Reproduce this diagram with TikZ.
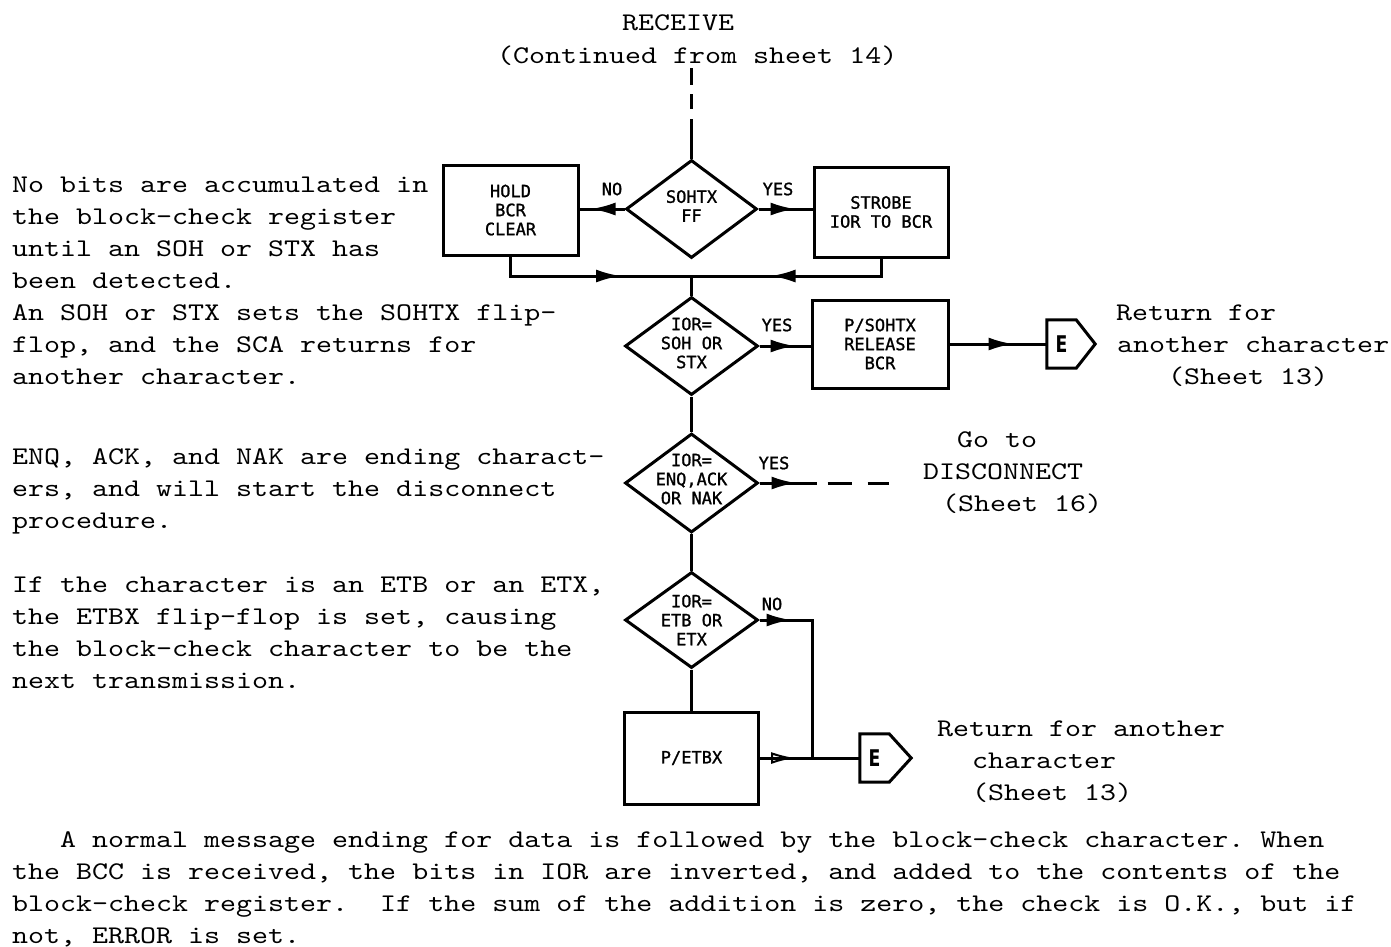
\documentclass[tikz,border=0pt]{standalone}
\usepackage{fontspec}
\usetikzlibrary{shapes.geometric,arrows.meta,decorations.markings}
\newfontfamily\twfam[FakeStretch=1.2]{lmmono10-regular.otf}
\newfontfamily\lblfam[FakeBold=1.2]{DejaVu Sans Mono}
\newfontfamily\econnfam[FakeStretch=0.75]{DejaVu Sans Bold}
\newcommand\txtfont{\twfam\fontsize{25.4}{32}\selectfont\frenchspacing}
\newcommand\lblfont{\lblfam\fontsize{17}{19}\selectfont}
\newcommand\efontsel{\econnfam\fontsize{23}{23}\selectfont}
\tikzset{
  ln/.style={line width=3pt},
  box/.style={draw, ln, rectangle, inner sep=0pt, align=center, font=\lblfont},
  dia/.style={draw, ln, diamond, inner sep=0pt},
  lab/.style={inner sep=0pt, font=\lblfont, align=center},
  tx/.style={anchor=base west, inner sep=0pt, font=\txtfont},
  econn/.style={inner sep=0pt, minimum width=29pt, minimum height=48pt, font=\efontsel},
  midarr/.style={postaction={decorate}, decoration={markings,
      mark=at position #1 with {\arrow{Latex[length=25pt,width=13pt]}}}},
  openarr/.style={postaction={decorate}, decoration={markings,
      mark=at position #1 with {\arrow{Latex[open,length=24pt,width=12pt,line width=2pt]}}}},
}
\begin{document}
\begin{tikzpicture}[x=1pt,y=-1pt]
\fill[white] (0,0) rectangle (1391,946);
\useasboundingbox (0,0) rectangle (1391,946);

% ---- title
\node[tx] (t1) at (622,30) {RECEIVE};
\node[tx] (t2) at (497,63) {(Continued from sheet 14)};

% ---- flow nodes
\node[box, minimum width=135pt, minimum height=90pt] (hold) at (510.5,210) {HOLD\\BCR\\CLEAR};
\node[dia, minimum width=131pt, minimum height=98pt] (d1) at (691.5,209) {};
\node[lab] (d1t) at (691.5,206) {SOHTX\\FF};
\node[box, minimum width=134pt, minimum height=90pt] (strobe) at (881,212) {STROBE\\IOR TO BCR};

\coordinate (m1) at (691.5,276);
\node[dia, minimum width=133pt, minimum height=98pt] (d2) at (691.5,346) {};
\node[lab] (d2t) at (691.5,343) {IOR=\\SOH OR\\STX};
\node[box, minimum width=136pt, minimum height=88pt] (psoh) at (880,344) {P/SOHTX\\RELEASE\\BCR};
\node[econn] (e1) at (1061.5,344) {E};

\node[dia, minimum width=133pt, minimum height=99pt] (d3) at (691.5,483) {};
\node[lab] (d3t) at (691.5,479) {IOR=\\ENQ,ACK\\OR NAK};
\coordinate (dend) at (889,483);

\node[dia, minimum width=133pt, minimum height=96pt] (d4) at (691.5,620) {};
\node[lab] (d4t) at (691.5,620) {IOR=\\ETB OR\\ETX};
\node[box, minimum width=134pt, minimum height=92pt] (petbx) at (691.5,758) {P/ETBX};
\coordinate (j2) at (812,758);
\node[econn] (e2) at (874.5,758) {E};

% ---- connector outlines
\draw[ln, line join=miter] (e1.north west) -- (e1.north east) -- ([xshift=19pt]e1.east) -- (e1.south east) -- (e1.south west) -- cycle;
\draw[ln, line join=miter] (e2.north west) -- (e2.north east) -- ([xshift=22pt]e2.east) -- (e2.south east) -- (e2.south west) -- cycle;

% ---- connectors
\coordinate (src) at (691.5,68);
\draw[ln, dash pattern=on 17pt off 9pt on 15pt off 10pt on 200pt] (src) -- (d1.north);
\draw[ln, midarr=34pt] (d1.west) -- (hold.east |- d1.west);
\draw[ln, midarr=37pt] (d1.east) -- (strobe.west |- d1.east);
\draw[ln, midarr=130pt] (hold.south) |- (m1);
\draw[ln, midarr=128pt] (strobe.south) |- (m1);
\draw[ln] (m1) -- (d2.north);
\draw[ln, midarr=36pt] (d2.east) -- (psoh.west |- d2.east);
\draw[ln, midarr=64pt] (psoh.east) -- (e1.west);
\draw[ln] (d2.south) -- (d3.north);
\draw[ln, dash pattern=on 57pt off 11pt on 24pt off 16pt on 30pt, midarr=37pt] (d3.east) -- (dend);
\draw[ln] (d3.south) -- (d4.north);
\draw[ln, midarr=32pt] (d4.east) -| (j2);
\draw[ln] (d4.south) -- (petbx.north);
\draw[ln, openarr=35pt] (petbx.east) -- (e2.west);

% ---- flow labels
\node[lab] (no1) at (612,189) {NO};
\node[lab] (yes1) at (778,189) {YES};
\node[lab] (yes2) at (777,325) {YES};
\node[lab] (yes3) at (774,463) {YES};
\node[lab] (no2) at (772,604) {NO};

% ---- right texts
\node[tx] (r1) at (1116,320) {Return for};
\node[tx] (r2) at (1117,352) {another character};
\node[tx] (r3) at (1168,384) {(Sheet 13)};
\node[tx] (g1) at (957,447) {Go to};
\node[tx] (g2) at (923,479) {DISCONNECT};
\node[tx] (g3) at (942,511) {(Sheet 16)};
\node[tx] (s1) at (937,736) {Return for another};
\node[tx] (s2) at (972,768) {character};
\node[tx] (s3) at (972,800) {(Sheet 13)};

% ---- left texts
\node[tx] (a1) at (12,192) {No bits are accumulated in};
\node[tx] (a2) at (12,224) {the block-check register};
\node[tx] (a3) at (12,256) {until an SOH or STX has};
\node[tx] (a4) at (12,288) {been detected.};
\node[tx] (b1) at (12,320) {An SOH or STX sets the SOHTX flip-};
\node[tx] (b2) at (12,352) {flop, and the SCA returns for};
\node[tx] (b3) at (12,384) {another character.};
\node[tx] (c1) at (12,464) {ENQ, ACK, and NAK are ending charact-};
\node[tx] (c2) at (12,496) {ers, and will start the disconnect};
\node[tx] (c3) at (12,528) {procedure.};
\node[tx] (f1) at (12,592) {If the character is an ETB or an ETX,};
\node[tx] (f2) at (12,624) {the ETBX flip-flop is set, causing};
\node[tx] (f3) at (12,656) {the block-check character to be the};
\node[tx] (f4) at (12,688) {next transmission.};

% ---- bottom paragraph
\node[tx] (z1) at (60,847) {A normal message ending for data is followed by the block-check character. When};
\node[tx] (z2) at (12,879) {the BCC is received, the bits in IOR are inverted, and added to the contents of the};
\node[tx] (z3) at (12,911) {block-check register.\ \ If the sum of the addition is zero, the check is O.K., but if};
\node[tx] (z4) at (12,943) {not, ERROR is set.};
\end{tikzpicture}
\end{document}
